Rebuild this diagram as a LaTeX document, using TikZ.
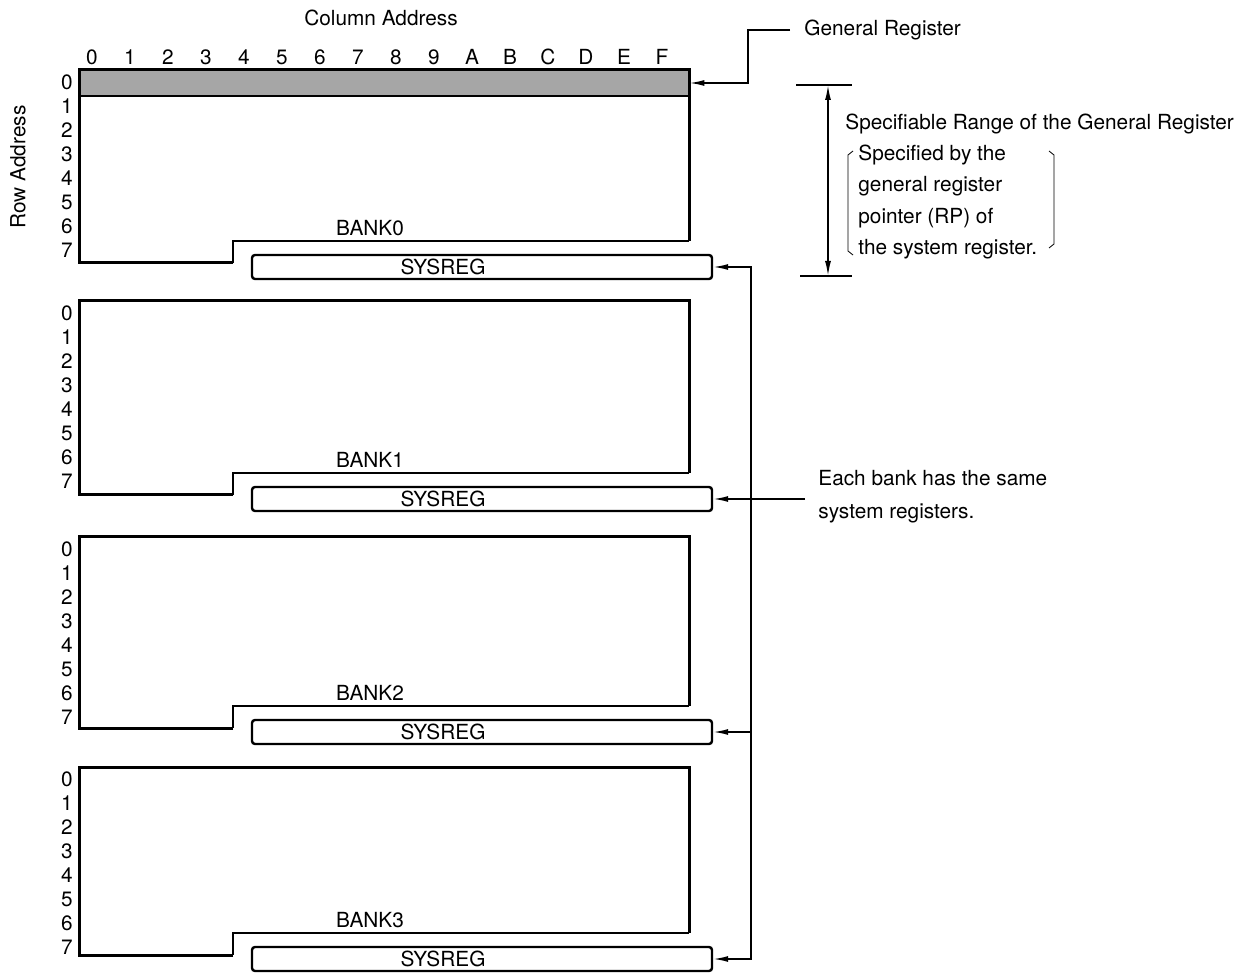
\documentclass[tikz,border=0pt]{standalone}
\usepackage{fontspec}
\setmainfont{TeX Gyre Heros}
\usetikzlibrary{arrows.meta}
\tikzstyle{bankline}=[line width=1.5pt,line join=miter]
\tikzstyle{stepline}=[line width=1pt]
\tikzstyle{sysbox}=[draw,line width=1.2pt,rounded corners=1.5pt,minimum width=230pt,minimum height=12pt,inner sep=0pt]
\tikzstyle{genrow}=[fill=black!35,minimum width=305pt,minimum height=13pt,inner sep=0pt]
\tikzstyle{wire}=[line width=0.8pt]
\tikzstyle{lbl}=[font=\fontsize{10.4}{12}\selectfont,inner sep=0pt]
\tikzstyle{txt}=[lbl,anchor=base west]

\begin{document}
\begin{tikzpicture}[x=0.5pt,y=-0.5pt,>={Latex[length=7.5pt,width=3pt]}]
    \useasboundingbox (0,0) rectangle (1244,973);
    \node[lbl] (coladdr) at (381,18) {Column Address};
    \node[lbl,rotate=90] (rowaddr) at (18,167) {Row Address};
    \foreach \c [count=\i from 0] in {0,1,2,3,4,5,6,7,8,9,A,B,C,D,E,F}
        \node[lbl] (col\c) at (92+38*\i,57) {\c};
%   general register row of bank 0
    \node[genrow] (gr) at (384,83) {};
    \draw[stepline] (gr.south west) -- (gr.south east);
%   the four banks
    \foreach \b/\t/\s in {0/70/267,1/301/499,2/537/732,3/767/959}{
        \draw[bankline] (233,\s-4) -- (79,\s-4) -- (79,\t) -- (689,\t) -- (689,\s-26);
        \draw[stepline] (689,\s-26) -- (233,\s-26) -- (233,\s-4);
        \foreach \r in {0,...,7}
            \node[lbl] (row\b\r) at (67,\t+12+24*\r) {\r};
        \node[lbl] (bank\b) at (370,\s-39) {BANK\b};
        \node[sysbox] (sys\b) at (482,\s) {};
        \node[lbl] (systxt\b) at (443,\s) {SYSREG};
        \coordinate (j\b) at (751,\s);
    }
	 \draw[wire,<->] (sys0.east) -- (j0) -- (j3) -- (sys3.east);
	 \draw[wire,->] (j2) -- (sys2.east);
    \node[txt] (same1) at (818,486) {Each bank has the same};
    \node[txt] (same2) at (818,518) {system registers.};
    \coordinate (samein) at (805,499);
	 \draw[wire,->] (samein) -- (sys1.east);
%   general register pointer
    \node[txt] (genreg) at (804,36) {General Register};
    \coordinate (grin) at (790,30);
	 \draw[wire,->] (grin) -- (748,30) |- (gr.east);
%   range of the general register
    \coordinate (rtop) at (828,85);
    \coordinate (rbot) at (828,276);
	 \draw[wire] ([xshift=-16pt]rtop) -- ([xshift=12pt]rtop);
	 \draw[wire] ([xshift=-14pt]rbot) -- ([xshift=12pt]rbot);
	 \draw[wire,<->] (rtop) -- (rbot);
    \node[txt] (range) at (845,130) {Specifiable Range of the General Register};
    \node[txt] (spec1) at (858,161) {Specified by the};
    \node[txt] (spec2) at (858,192) {general register};
    \node[txt] (spec3) at (858,224) {pointer (RP) of};
    \node[txt] (spec4) at (858,255) {the system register.};
    \draw[thin] (853,151) -- (848,155) -- (848,251) -- (853,255);
    \draw[thin] (1049,151) -- (1054,155) -- (1054,244) -- (1049,248);
\end{tikzpicture}
\end{document}
